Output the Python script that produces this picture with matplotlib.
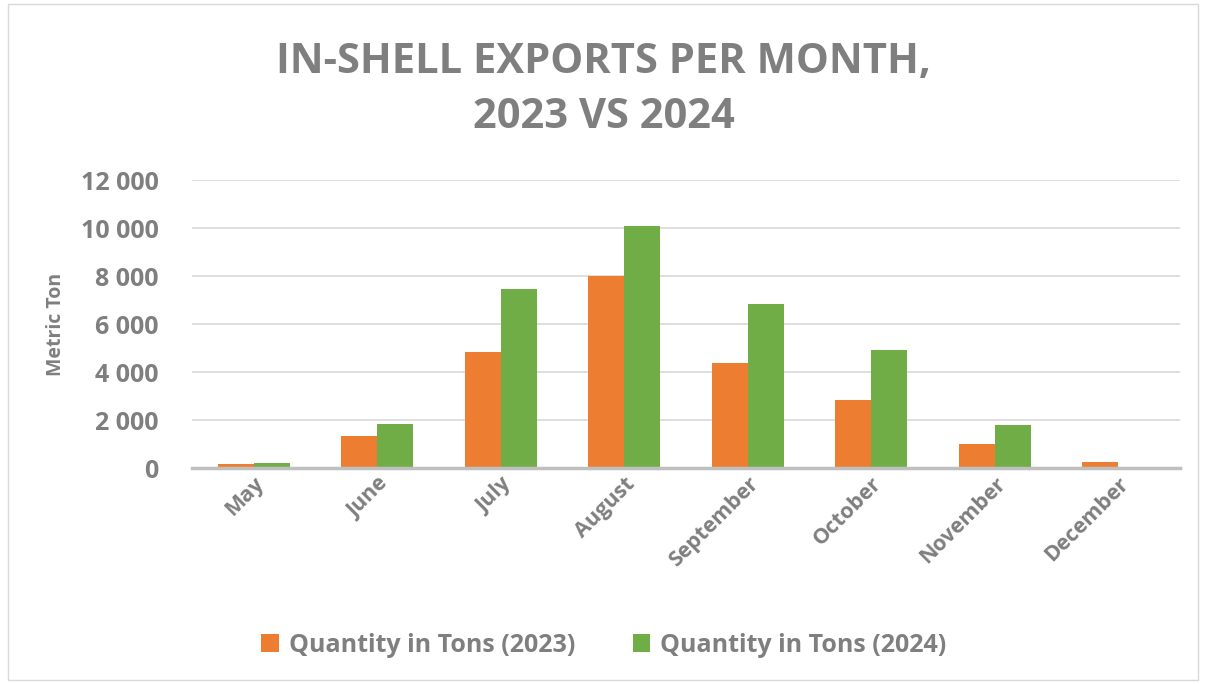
import numpy as np
import matplotlib.pyplot as plt
import matplotlib.ticker as ticker
from matplotlib.patches import Rectangle

plt.rc('font', family=['Open Sans', 'DejaVu Sans'], weight='bold')

months = ['May', 'June', 'July', 'August', 'September', 'October', 'November', 'December']
tons_2023 = [180, 1330, 4830, 8000, 4380, 2830, 1000, 250]
tons_2024 = [220, 1830, 7460, 10080, 6830, 4920, 1780, 0]

grey = '#7f7f7f'

def thousands(x, pos):
    return '{:,.0f}'.format(x).replace(',', ' ')

fig = plt.figure(figsize=(12.08, 6.84), dpi=100)
ax = fig.add_axes([192 / 1208, 1 - 468 / 684, 988 / 1208, 288 / 684])

x = np.arange(len(months))
w = 0.29
ax.bar(x - w / 2, tons_2023, w, color='#ED7D31', label='Quantity in Tons (2023)', zorder=3)
ax.bar(x + w / 2, tons_2024, w, color='#70AD47', label='Quantity in Tons (2024)', zorder=3)

ax.set_xlim(-0.5, len(months) - 0.5)
ax.set_ylim(0, 12000)
ax.yaxis.set_major_locator(ticker.MultipleLocator(2000))
ax.yaxis.set_major_formatter(ticker.FuncFormatter(thousands))
ax.yaxis.grid(True, color='#d9d9d9', linewidth=1.2, zorder=0)
for s in ['top', 'right', 'left']:
    ax.spines[s].set_visible(False)
ax.spines['bottom'].set_color('#bfbfbf')
ax.spines['bottom'].set_linewidth(2.5)
ax.spines['bottom'].set_zorder(4)
ax.tick_params(axis='both', length=0, colors=grey)
ax.tick_params(axis='y', pad=24, labelsize=18)
ax.set_xticks(x)
ax.set_xticklabels(months, rotation=45, ha='right', rotation_mode='anchor', fontsize=15.5)
ax.tick_params(axis='x', pad=4)
ax.set_ylabel('Metric Ton', color=grey, fontsize=14, fontweight='bold', labelpad=11)

fig.text(0.5, 1 - 62 / 684, 'IN-SHELL EXPORTS PER MONTH,', ha='center', va='center',
         fontsize=30, color=grey)
fig.text(0.5, 1 - 118 / 684, '2023 VS 2024', ha='center', va='center',
         fontsize=30, color=grey)

fig.legend(loc='center', bbox_to_anchor=(0.5, 1 - 645 / 684), ncol=2, frameon=False,
           fontsize=18, labelcolor=grey, handlelength=0.7, handleheight=0.7,
           columnspacing=2.3, handletextpad=0.4)

fig.patches.append(Rectangle((8 / 1208, 4 / 684), 1190 / 1208, 676 / 684, transform=fig.transFigure,
                             fill=False, edgecolor='#d9d9d9', linewidth=1))

fig.savefig('out.png', dpi=100)
